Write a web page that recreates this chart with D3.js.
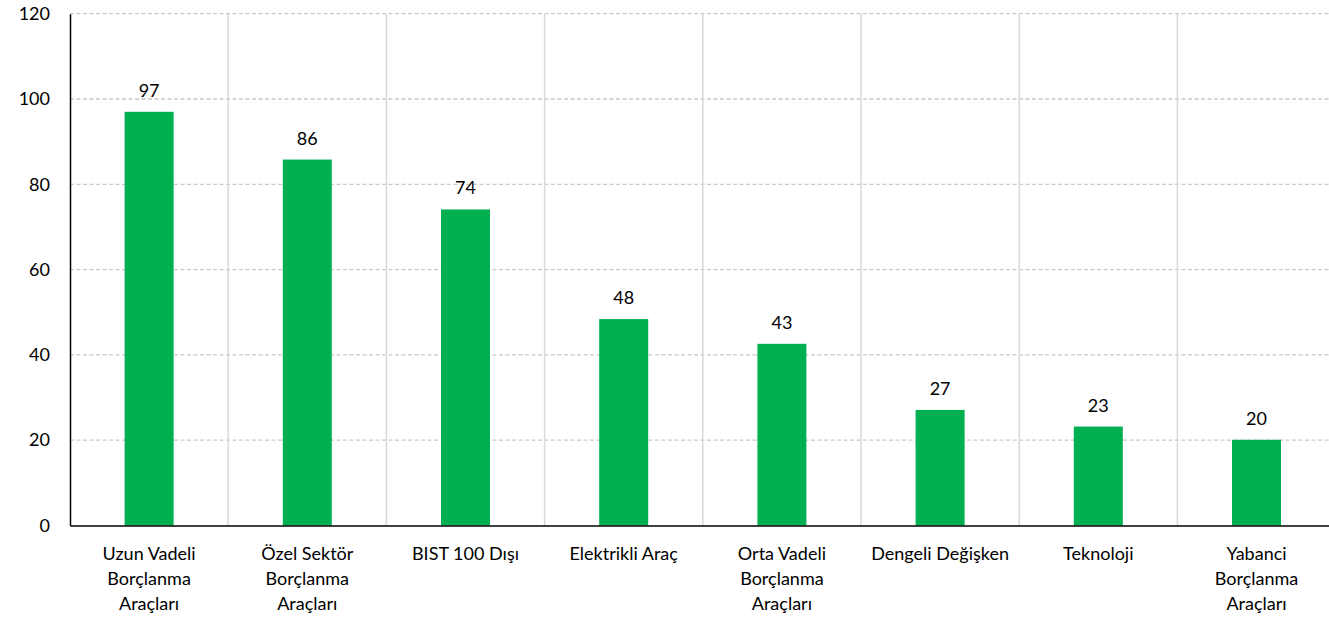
<!DOCTYPE html>
<html><head><meta charset="utf-8">
<script src="https://cdn.jsdelivr.net/npm/d3@7"></script>
<style>body{margin:0;background:#fff;} svg{display:block;font-family:Lato,"Open Sans",sans-serif;}</style>
</head><body>
<svg id="c" width="1329" height="620"></svg>
<script>
const categories = [["Uzun Vadeli","Borçlanma","Araçları"],["Özel Sektör","Borçlanma","Araçları"],["BIST 100 Dışı"],["Elektrikli Araç"],["Orta Vadeli","Borçlanma","Araçları"],["Dengeli Değişken"],["Teknoloji"],["Yabanci","Borçlanma","Araçları"]];
const values = [97, 85.8, 74.1, 48.4, 42.6, 27.1, 23.2, 20.1];
const yTicks = [0, 20, 40, 60, 80, 100, 120];

const svg = d3.select("#c");
const mLeft = 70, mBottom = 525.5, mTop = 13.7, band = 158.2;
const FS = 18;
const ids = categories.map((d,i)=>i);
const x = d3.scaleBand().domain(ids).range([mLeft, mLeft + band*8]).paddingInner(0).paddingOuter(0);
const y = d3.scaleLinear().domain([0,120]).range([mBottom, mTop]);

// horizontal dashed gridlines
svg.append("g").selectAll("line").data(yTicks.filter(t=>t>0)).join("line")
  .attr("x1", mLeft).attr("x2", 1329).attr("y1", d=>y(d)).attr("y2", d=>y(d))
  .attr("stroke", "#c9c9c9").attr("stroke-width", 1.3).attr("stroke-dasharray", "4,2.5");
// vertical gridlines
svg.append("g").selectAll("line").data(ids.slice(1)).join("line")
  .attr("x1", d=>x(d)).attr("x2", d=>x(d)).attr("y1", mTop).attr("y2", mBottom)
  .attr("stroke", "#d9d9d9").attr("stroke-width", 1.5);

// bars
const bw = 49;
svg.append("g").selectAll("rect").data(values).join("rect")
  .attr("x", (d,i)=>x(i)+x.bandwidth()/2-bw/2).attr("width", bw)
  .attr("y", d=>y(d)).attr("height", d=>mBottom-y(d)).attr("fill", "#00b050");

// value labels
svg.append("g").selectAll("text").data(values).join("text")
  .attr("x", (d,i)=>x(i)+x.bandwidth()/2).attr("y", d=>y(d)-15)
  .attr("text-anchor","middle").attr("font-size",FS).attr("fill","#000")
  .text(d=>d3.format(".0f")(d));

// y axis
const ya = d3.axisLeft(y).tickValues(yTicks).tickSize(0).tickPadding(20);
const gy = svg.append("g").attr("transform", `translate(${mLeft},0)`).call(ya);
gy.select(".domain").attr("stroke","#000").attr("stroke-width",1.5);
gy.selectAll("text").attr("font-size",FS).attr("fill","#000").attr("font-family","Lato,'Open Sans',sans-serif");

// x axis
const xa = d3.axisBottom(x).tickSize(0).tickFormat("");
const gx = svg.append("g").attr("transform", `translate(0,${mBottom})`).call(xa);
gx.select(".domain").attr("stroke","#000").attr("stroke-width",1.5);
gx.selectAll(".tick").each(function(d){
  const t = d3.select(this).append("text").attr("text-anchor","middle").attr("font-size",FS).attr("fill","#000")
    .attr("font-family","Lato,'Open Sans',sans-serif");
  categories[d].forEach((line,k)=>t.append("tspan").attr("x",0).attr("y",34.5+k*25).text(line));
});
</script>
</body></html>
